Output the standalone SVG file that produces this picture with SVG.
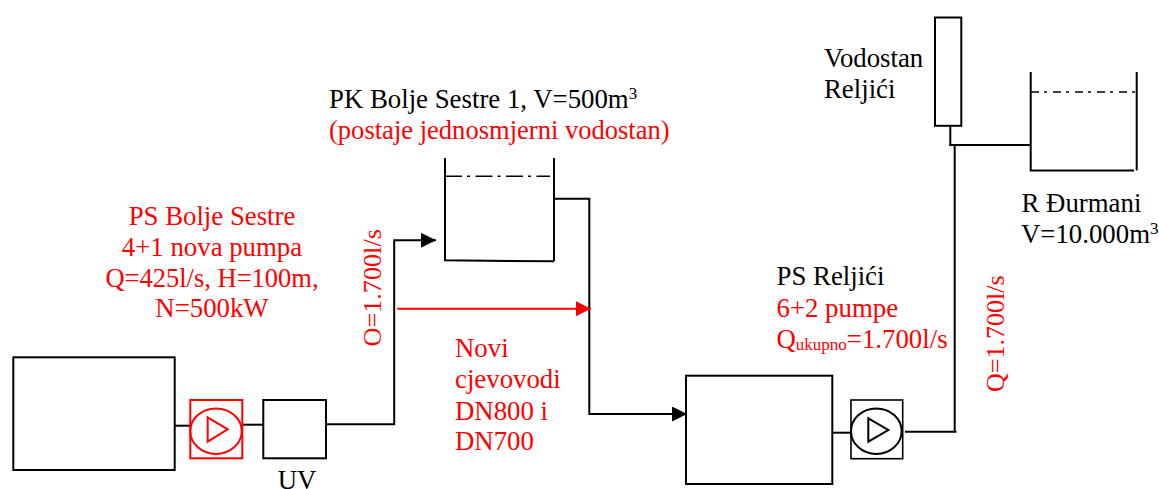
<svg xmlns="http://www.w3.org/2000/svg" width="1159" height="489" viewBox="0 0 1159 489">
<style>
text{font-family:"Liberation Serif","Times New Roman",serif;font-size:26.8px;fill:#000}
.r{fill:#f00}
.m{text-anchor:middle}
.s{fill:none;stroke:#000;stroke-width:2}
.t{fill:none;stroke:#000;stroke-width:2}
.sr{fill:none;stroke:#f00;stroke-width:2}
.w{fill:none;stroke:#000;stroke-width:1.6}
.u{font-size:17px}
</style>
<defs>
<marker id="a" markerUnits="userSpaceOnUse" markerWidth="15" markerHeight="15" refX="15" refY="7.500" orient="auto"><path d="M0 0L15 7.500L0 15Z" fill="#000"/></marker>
<marker id="ar" markerUnits="userSpaceOnUse" markerWidth="15" markerHeight="15" refX="15" refY="7.500" orient="auto"><path d="M0 0L15 7.500L0 15Z" fill="#f00"/></marker>
</defs>
<rect width="1159" height="489" fill="#fff"/>
<g id="connectors">
<path class="s" d="M174.500 425.700H190"/>
<path class="s" d="M242 424.700H263"/>
<path class="s" d="M326 424.300H394.200V240.300H436" marker-end="url(#a)"/>
<path class="s" d="M554 198.700H589.300V414H687" marker-end="url(#a)"/>
<path class="sr" d="M397.300 308.700H591" marker-end="url(#ar)"/>
<path class="s" d="M832 432.700H851"/>
<path class="s" d="M905 431.700H956.500"/>
<path class="s" d="M954.700 145V432"/>
<path class="s" d="M950.300 125V145"/>
<path class="s" d="M949.300 145H1031"/>
</g>
<g id="izvor"><rect class="t" x="13.300" y="357.300" width="161.400" height="112.700"/></g>
<g id="ps-bolje-sestre">
<rect class="sr" x="190.300" y="400" width="52" height="58.300"/>
<ellipse class="sr" cx="216" cy="431.200" rx="25.700" ry="22.800"/>
<path class="sr" d="M207.700 417.300L227.700 429.300L207.700 441.700Z"/>
<text class="r m" x="212" y="225">PS Bolje Sestre</text>
<text class="r m" x="212" y="256">4+1 nova pumpa</text>
<text class="r m" x="212" y="287" style="font-size:26.500px">Q=425l/s, H=100m,</text>
<text class="r m" x="212" y="317">N=500kW</text>
</g>
<g id="uv">
<rect class="t" x="263.300" y="400" width="62.700" height="58.300"/>
<text class="m" x="297" y="489">UV</text>
</g>
<g id="pk-bolje-sestre">
<path class="t" d="M445 158V260.300L554 261.300M554 158V261.300"/>
<path class="w" d="M445 176.300H550" stroke-dasharray="17 5 3 5.500"/>
<text x="329" y="108">PK Bolje Sestre 1, V=500m<tspan class="u" dy="-9">3</tspan></text>
<text class="r" x="329" y="139" style="font-size:26.550px">(postaje jednosmjerni vodostan)</text>
</g>
<g id="novi-cjevovodi">
<text class="r" x="455" y="357">Novi</text>
<text class="r" x="455" y="388">cjevovodi</text>
<text class="r" x="455" y="420">DN800 i</text>
<text class="r" x="455" y="450">DN700</text>
</g>
<text class="r" transform="translate(380.500 346.500) rotate(-90)" style="font-size:26.200px">O=1.700l/s</text>
<g id="ps-reljici">
<rect class="t" x="686" y="375.700" width="146.300" height="108.300"/>
<rect class="t" style="stroke-width:1.600" x="851" y="400" width="51.700" height="58.700"/>
<ellipse class="t" cx="876.300" cy="431.200" rx="25.300" ry="22.800"/>
<path class="t" d="M868.300 418.300L888.300 430L868.300 441.700Z"/>
<text x="776.500" y="285">PS Reljići</text>
<text class="r" x="776.500" y="317">6+2 pumpe</text>
<text class="r" x="776.500" y="347.500">Q<tspan class="u" dy="2">ukupno</tspan><tspan dy="-2">=1.700l/s</tspan></text>
</g>
<text class="r" transform="translate(1004 392) rotate(-90)" style="font-size:26px">Q=1.700l/s</text>
<g id="vodostan-reljici">
<rect class="t" x="935" y="17.500" width="26.300" height="108.300"/>
<text x="824" y="67">Vodostan</text>
<text x="824" y="97.500">Reljići</text>
</g>
<g id="r-durmani">
<path class="t" d="M1030.700 72V170.500H1134M1136.700 72V170.500"/>
<path class="w" d="M1031 92H1135" stroke-dasharray="8 5 3 6"/>
<text x="1021.500" y="212">R Đurmani</text>
<text x="1021" y="243">V=10.000m<tspan class="u" dy="-9">3</tspan></text>
</g>
</svg>
